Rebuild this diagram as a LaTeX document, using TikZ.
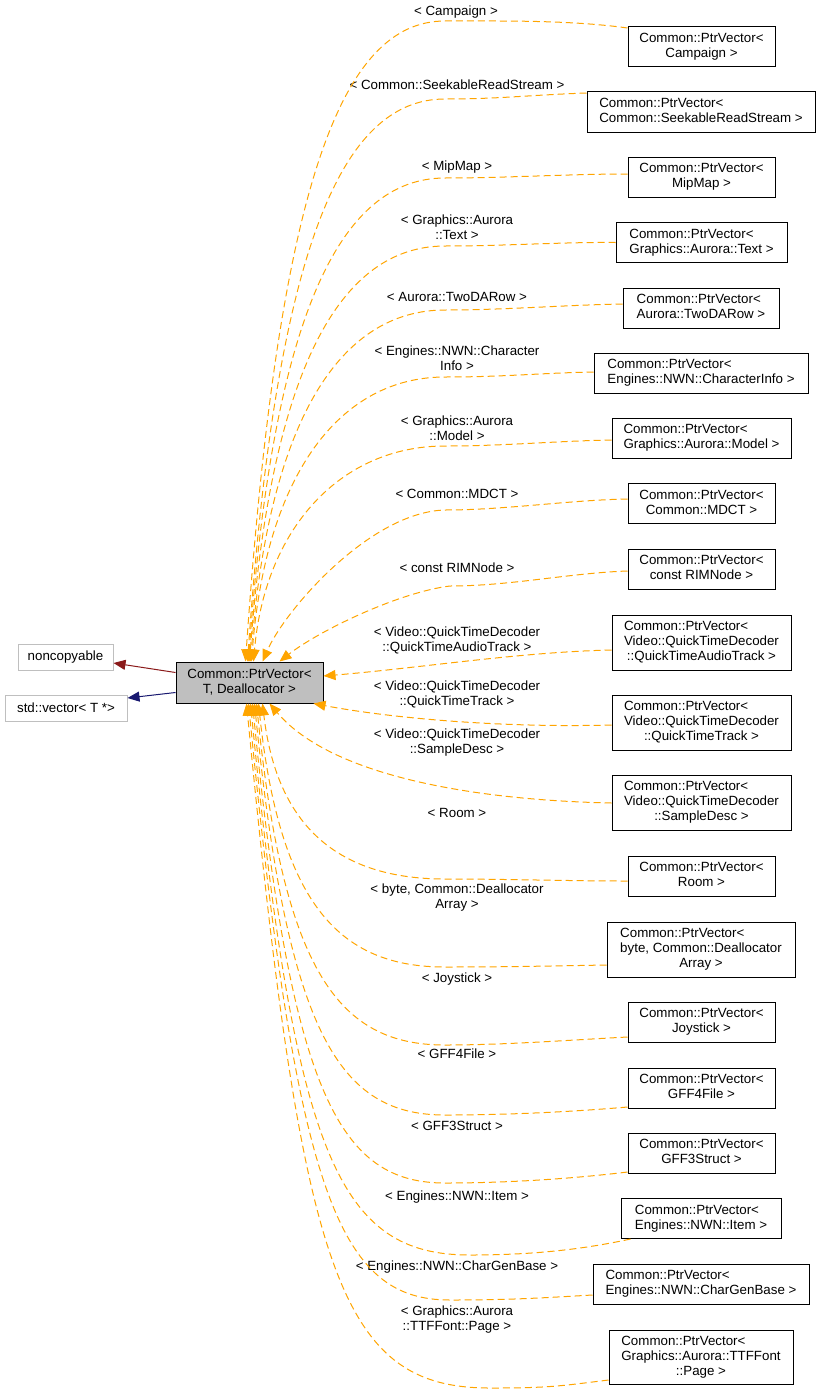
\documentclass[tikz,border=0pt]{standalone}
\usepackage{fontspec}
\setmainfont{Liberation Sans}
\usetikzlibrary{arrows.meta,calc}
\definecolor{dorange}{HTML}{FFA500}
\definecolor{dred}{HTML}{8B1A1A}
\definecolor{dblue}{HTML}{191970}
\definecolor{dgray}{HTML}{BFBFBF}
\newcommand\ptrv[1]{\begin{tabular}{@{}c@{}}\multicolumn{1}{@{}l@{}}{Common::PtrVector<}\\#1\end{tabular}}
\begin{document}
\begin{tikzpicture}[x=0.75pt,y=-0.75pt,
  font={\fontsize{10pt}{11.25pt}\selectfont},
  wh/.style 2 args={minimum width={#1*0.75pt}, minimum height={#2*0.75pt}},
  cls/.style={draw=black, line width=0.75pt, inner sep=0pt},
  ext/.style={draw=dgray, line width=0.75pt, inner sep=0pt},
  lbl/.style={inner sep=0pt, align=center},
  dep/.style={draw=dorange, line width=0.75pt, dash pattern=on 5.25pt off 3pt,
    -{Triangle[length=9pt,width=7.5pt,fill=dorange]}},
  redge/.style={draw=dred, line width=0.75pt, -{Triangle[length=9pt,width=7.5pt,fill=dred]}},
  bedge/.style={draw=dblue, line width=0.75pt, -{Triangle[length=9pt,width=7.5pt,fill=dblue]}}
]
\fill[white] (0,0) rectangle (820,1395);
\useasboundingbox (0,0) rectangle (820,1395);

% central and base classes
\node[cls, fill=dgray, wh={147}{41}, align=center] (ctr) at (249.5,682.5) {Common::PtrVector<\\T, Deallocator >};
\node[ext, wh={95}{26}] (nc) at (65.5,657) {noncopyable};
\node[ext, wh={122}{26}] (sv) at (66,708) {std::vector< T *>};

% derived classes
\node[cls, wh={147}{40}] (c1) at (701.5,47) {\ptrv{Campaign >}};
\node[cls, wh={228}{40}] (c2) at (701,112) {\ptrv{Common::SeekableReadStream >}};
\node[cls, wh={147}{40}] (c3) at (701.5,177) {\ptrv{MipMap >}};
\node[cls, wh={171}{40}] (c4) at (701.5,242.5) {\ptrv{Graphics::Aurora::Text >}};
\node[cls, wh={156}{40}] (c5) at (701,308) {\ptrv{Aurora::TwoDARow >}};
\node[cls, wh={214}{40}] (c6) at (701,373) {\ptrv{Engines::NWN::CharacterInfo >}};
\node[cls, wh={179}{40}] (c7) at (701.5,438) {\ptrv{Graphics::Aurora::Model >}};
\node[cls, wh={147}{40}] (c8) at (701.5,503.5) {\ptrv{Common::MDCT >}};
\node[cls, wh={147}{40}] (c9) at (701.5,569) {\ptrv{const RIMNode >}};
\node[cls, wh={179}{55}] (c10) at (701.5,642.5) {\ptrv{Video::QuickTimeDecoder\\::QuickTimeAudioTrack >}};
\node[cls, wh={179}{55}] (c11) at (701.5,722.5) {\ptrv{Video::QuickTimeDecoder\\::QuickTimeTrack >}};
\node[cls, wh={179}{55}] (c12) at (701.5,802.5) {\ptrv{Video::QuickTimeDecoder\\::SampleDesc >}};
\node[cls, wh={147}{40}] (c13) at (701.5,876) {\ptrv{Room >}};
\node[cls, wh={188}{55}] (c14) at (701,949.5) {\ptrv{byte, Common::Deallocator\\Array >}};
\node[cls, wh={147}{40}] (c15) at (701.5,1022) {\ptrv{Joystick >}};
\node[cls, wh={147}{40}] (c16) at (701.5,1088) {\ptrv{GFF4File >}};
\node[cls, wh={147}{40}] (c17) at (701.5,1153) {\ptrv{GFF3Struct >}};
\node[cls, wh={160}{40}] (c18) at (701,1218.5) {\ptrv{Engines::NWN::Item >}};
\node[cls, wh={216}{40}] (c19) at (701,1284) {\ptrv{Engines::NWN::CharGenBase >}};
\node[cls, wh={184}{54}] (c20) at (701,1357) {\ptrv{Graphics::Aurora::TTFFont\\::Page >}};

% labels
\node[lbl] (l1) at (456,12) {< Campaign >};
\node[lbl] (l2) at (457,85) {< Common::SeekableReadStream >};
\node[lbl] (l3) at (457,167) {< MipMap >};
\node[lbl] (l4) at (457,227.5) {< Graphics::Aurora\\::Text >};
\node[lbl] (l5) at (457,297) {< Aurora::TwoDARow >};
\node[lbl] (l6) at (457,358) {< Engines::NWN::Character\\Info >};
\node[lbl] (l7) at (457,428) {< Graphics::Aurora\\::Model >};
\node[lbl] (l8) at (457,494) {< Common::MDCT >};
\node[lbl] (l9) at (457,568) {< const RIMNode >};
\node[lbl] (l10) at (457,640.5) {< Video::QuickTimeDecoder\\::QuickTimeAudioTrack >};
\node[lbl] (l11) at (457,694) {< Video::QuickTimeDecoder\\::QuickTimeTrack >};
\node[lbl] (l12) at (457,742.5) {< Video::QuickTimeDecoder\\::SampleDesc >};
\node[lbl] (l13) at (457,813) {< Room >};
\node[lbl] (l14) at (457,897.5) {< byte, Common::Deallocator\\Array >};
\node[lbl] (l15) at (457,979) {< Joystick >};
\node[lbl] (l16) at (457,1054) {< GFF4File >};
\node[lbl] (l17) at (457,1126) {< GFF3Struct >};
\node[lbl] (l18) at (457,1197) {< Engines::NWN::Item >};
\node[lbl] (l19) at (457,1267) {< Engines::NWN::CharGenBase >};
\node[lbl] (l20) at (457,1319.5) {< Graphics::Aurora\\::TTFFont::Page >};

% inheritance edges to base classes
\draw[redge] ($(ctr.west)+(0,-10)$) -- ($(nc.east)+(0,6)$);
\draw[bedge] ($(ctr.west)+(0,10)$) -- ($(sv.east)+(0,-10)$);

% template instance edges (top)
\draw[dep] ($(c1.west)+(0,-19)$) .. controls (570,20) and (505,21) .. (445,21) .. controls (340,21) and (278,189) .. ($(ctr.north west)+(70,0)$);
\draw[dep] ($(c2.west)+(0,-19)$) .. controls (530,95) and (500,99) .. (445,99) .. controls (340,99) and (276,252) .. ($(ctr.north west)+(72,0)$);
\draw[dep] ($(c3.west)+(0,-3)$) .. controls (570,174) and (505,178) .. (445,178) .. controls (340,178) and (273,315) .. ($(ctr.north west)+(73,0)$);
\draw[dep] (c4.west) .. controls (560,242) and (505,246) .. (445,246) .. controls (340,246) and (271,369) .. ($(ctr.north west)+(74,0)$);
\draw[dep] ($(c5.west)+(0,-4)$) .. controls (565,305) and (505,310) .. (445,310) .. controls (340,310) and (269,420) .. ($(ctr.north west)+(75,0)$);
\draw[dep] ($(c6.west)+(0,-1)$) .. controls (540,373) and (505,377) .. (445,377) .. controls (340,377) and (266,474) .. ($(ctr.north west)+(76,0)$);
\draw[dep] ($(c7.west)+(0,2)$) .. controls (555,441) and (505,446) .. (445,446) .. controls (340,446) and (265,529) .. ($(ctr.north west)+(78,0)$);
\draw[dep] ($(c8.west)+(0,-4.5)$) .. controls (570,500) and (505,510) .. (445,510) .. controls (370,512) and (285,610) .. ($(ctr.north west)+(87,0)$);
\draw[dep] ($(c9.west)+(0,2)$) .. controls (570,573) and (510,586) .. (450,586) .. controls (400,592) and (320,630) .. ($(ctr.north west)+(104,0)$);

% middle
\draw[dep] ($(c10.west)+(0,7.5)$) .. controls (520,652) and (420,668) .. ($(ctr.east)+(0,-6.5)$);
\draw[dep] ($(c11.west)+(0,2.5)$) .. controls (500,728) and (390,718) .. ($(ctr.south east)+(-10,0)$);
\draw[dep] ($(c12.west)+(0,0.5)$) .. controls (470,800) and (330,775) .. ($(ctr.south west)+(94,0)$);

% bottom
\draw[dep] ($(c13.west)+(0,5)$) .. controls (570,881) and (505,879) .. (445,879) .. controls (340,879) and (277,828) .. ($(ctr.south west)+(87,0)$);
\draw[dep] ($(c14.west)+(0,15.5)$) .. controls (550,966) and (505,967) .. (445,967) .. controls (340,967) and (280,905) .. ($(ctr.south west)+(83,0)$);
\draw[dep] ($(c15.west)+(0,15)$) .. controls (570,1040) and (505,1045) .. (445,1045) .. controls (340,1045) and (284,974) .. ($(ctr.south west)+(81,0)$);
\draw[dep] ($(c16.west)+(0,19)$) .. controls (570,1112) and (505,1115) .. (445,1115) .. controls (340,1115) and (288,1036) .. ($(ctr.south west)+(79,0)$);
\draw[dep] ($(c17.west)+(0,19)$) .. controls (570,1179) and (505,1183) .. (445,1183) .. controls (340,1183) and (291,1095) .. ($(ctr.south west)+(77,0)$);
\draw[dep] ($(c18.south west)+(10,0)$) .. controls (580,1250) and (530,1255) .. (470,1255) .. controls (340,1255) and (295,1159) .. ($(ctr.south west)+(75,0)$);
\draw[dep] ($(c19.west)+(0,11)$) .. controls (540,1298) and (510,1300) .. (450,1300) .. controls (340,1300) and (297,1198) .. ($(ctr.south west)+(73,0)$);
\draw[dep] ($(c20.west)+(0,23)$) .. controls (560,1386) and (550,1388) .. (490,1388) .. controls (340,1388) and (302,1276) .. ($(ctr.south west)+(71,0)$);
\end{tikzpicture}
\end{document}
